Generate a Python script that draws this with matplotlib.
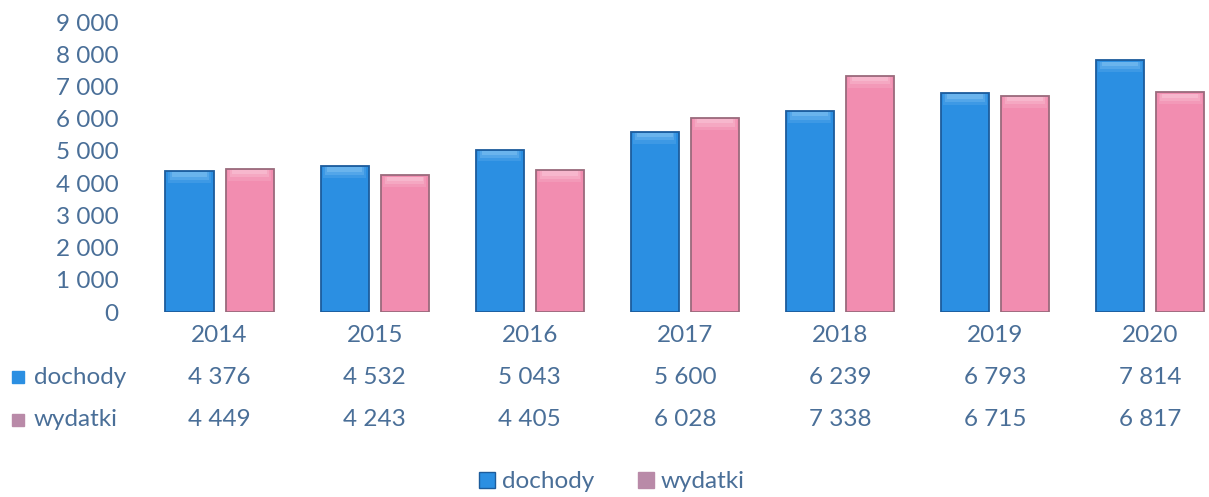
import matplotlib
matplotlib.use("Agg")
import matplotlib.pyplot as plt
import numpy as np
from matplotlib.patches import Patch
from matplotlib.ticker import FuncFormatter

years = ["2014", "2015", "2016", "2017", "2018", "2019", "2020"]
dochody = [4376, 4532, 5043, 5600, 6239, 6793, 7814]
wydatki = [4449, 4243, 4405, 6028, 7338, 6715, 6817]
series_names = ["dochody", "wydatki"]

plt.rcParams['font.family'] = ['Lato', 'DejaVu Sans']
TXT = "#4a6f98"
BLUE = "#2b8fe2"
BLUE_EDGE = "#1c5c9c"
BLUE_HI = "#8fcaf5"
PINK = "#f28db0"
PINK_EDGE = "#9a6a7c"
PINK_HI = "#fbd0df"
FS = 17.5

fig = plt.figure(figsize=(12.09, 4.97), dpi=100)
ax = fig.add_axes([0.1175, 0.372, 0.8825, 0.5837])

x = np.arange(len(years))
off = 0.194
w = 0.31
ax.bar(x - off, dochody, w, color=BLUE, edgecolor=BLUE_EDGE, linewidth=1.3, zorder=2)
ax.bar(x + off, wydatki, w, color=PINK, edgecolor=PINK_EDGE, linewidth=1.3, zorder=2)
# soft bevel highlight at the top of each bar
for k, a in enumerate([0.18, 0.28, 0.4]):
    hh = 330 - k * 100
    ax.bar(x - off, [hh] * len(x), w * (0.9 - 0.08 * k), bottom=np.array(dochody) - hh - 40,
           color=BLUE_HI, alpha=a, linewidth=0, zorder=3)
    ax.bar(x + off, [hh] * len(x), w * (0.9 - 0.08 * k), bottom=np.array(wydatki) - hh - 40,
           color=PINK_HI, alpha=a, linewidth=0, zorder=3)

ax.set_ylim(0, 9000)
ax.set_xlim(-0.5, 6.38)
ax.set_yticks(np.arange(0, 9001, 1000))
ax.yaxis.set_major_formatter(FuncFormatter(lambda v, p: f"{int(v):,}".replace(",", " ")))
ax.set_xticks(x)
ax.set_xticklabels(years)
ax.tick_params(axis='both', length=0, labelsize=FS, labelcolor=TXT)
ax.tick_params(axis='y', pad=17)
ax.tick_params(axis='x', pad=9)
for s in ax.spines.values():
    s.set_visible(False)

fmt = lambda v: f"{v:,}".replace(",", " ")
row_y = [1 - 377 / 497, 1 - 420 / 497]
trans = matplotlib.transforms.blended_transform_factory(ax.transData, fig.transFigure)
for vals, yy in zip([dochody, wydatki], row_y):
    for xi, v in zip(x, vals):
        ax.text(xi, yy, fmt(v), transform=trans, ha='center', va='center',
                fontsize=FS, color=TXT)

# row headers with keys
for name, yy, col in zip(series_names, row_y, [BLUE, "#b98aa8"]):
    fig.text(34 / 1209, yy, name, ha='left', va='center', fontsize=FS, color=TXT)
    fig.patches.append(plt.Rectangle((12 / 1209, yy - 6 / 497), 12 / 1209, 12 / 497,
                                     transform=fig.transFigure, color=col, figure=fig))

handles = [Patch(facecolor=BLUE, edgecolor=BLUE_EDGE), Patch(facecolor="#b98aa8", edgecolor="#b98aa8")]
fig.legend(handles, series_names, loc='center', bbox_to_anchor=(612 / 1209, 1 - 482 / 497),
           ncol=2, frameon=False, fontsize=FS, labelcolor=TXT, handlelength=0.65,
           handleheight=0.65, handletextpad=0.3, columnspacing=1.8)

fig.savefig("out.png", dpi=100)
